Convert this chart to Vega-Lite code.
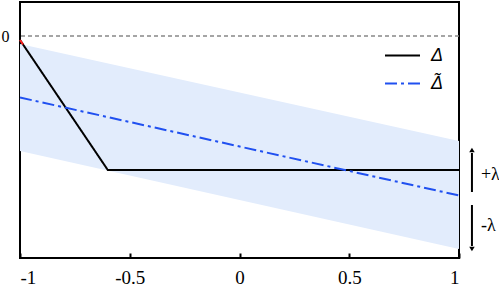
{
  "$schema": "https://vega.github.io/schema/vega-lite/v6.json",
  "width": 439,
  "height": 256,
  "autosize": {"type": "none"},
  "padding": {"left": 20, "top": 2, "right": 40, "bottom": 31},
  "background": "white",
  "config": {
    "view": {"stroke": "black", "strokeWidth": 2},
    "axis": {"grid": false, "labelFont": "Liberation Serif", "labelColor": "black"}
  },
  "datasets": {
    "band": [
      {"x": -1, "lo": -1.15, "hi": -0.08},
      {"x": 1, "lo": -2.13, "hi": -1.05}
    ],
    "lines": [
      {"s": "Δ", "x": -1, "y": -0.04, "o": 0},
      {"s": "Δ", "x": -0.6, "y": -1.34, "o": 1},
      {"s": "Δ", "x": 1, "y": -1.34, "o": 2},
      {"s": "Δ̃", "x": -1, "y": -0.615, "o": 0},
      {"s": "Δ̃", "x": 1, "y": -1.595, "o": 1}
    ],
    "red": [
      {"x": -1, "y": -0.04},
      {"x": -0.986, "y": -0.085}
    ],
    "arrows": [
      {"x": 1.059, "y": -1.56, "y2": -1.17, "tip": -1.14, "shape": "triangle-up", "label": "+λ", "ly": -1.39},
      {"x": 1.059, "y": -1.69, "y2": -2.1, "tip": -2.13, "shape": "triangle-down", "label": "-λ", "ly": -1.9}
    ]
  },
  "layer": [
    {
      "data": {"name": "band"},
      "mark": {"type": "area", "color": "#e2ecfc", "opacity": 1},
      "encoding": {
        "x": {"field": "x", "type": "quantitative", "scale": {"domain": [-1, 1], "nice": false, "zero": false},
          "axis": {"values": [-1, -0.5, 0, 0.5, 1], "labelExpr": "'' + datum.value", "title": null, "domain": false, "tickSize": -5, "tickWidth": 2, "tickColor": "black", "labelFontSize": 19, "labelPadding": 15}},
        "y": {"field": "lo", "type": "quantitative", "scale": {"domain": [-2.22, 0.34], "nice": false, "zero": false},
          "axis": {"values": [0], "labelExpr": "'' + datum.value", "title": null, "domain": false, "ticks": false, "labelFontSize": 16, "labelPadding": 11}},
        "y2": {"field": "hi"}
      }
    },
    {
      "data": {"values": [{"y": 0}]},
      "mark": {"type": "rule", "color": "#888888", "strokeDash": [4, 3], "strokeWidth": 1.5},
      "encoding": {"y": {"field": "y", "type": "quantitative"}}
    },
    {
      "data": {"name": "lines"},
      "mark": {"type": "line", "strokeWidth": 2},
      "encoding": {
        "x": {"field": "x", "type": "quantitative"},
        "y": {"field": "y", "type": "quantitative"},
        "order": {"field": "o"},
        "color": {"field": "s", "type": "nominal", "scale": {"domain": ["Δ", "Δ̃"], "range": ["black", "#2050f0"]},
          "legend": {"title": null, "orient": "none", "legendX": 364, "legendY": 35, "symbolType": "stroke", "symbolSize": 1225, "symbolStrokeWidth": 2, "labelFont": "Liberation Sans", "labelFontStyle": "italic", "labelFontSize": 18, "labelOffset": 10, "rowPadding": 0}},
        "strokeDash": {"field": "s", "type": "nominal", "scale": {"domain": ["Δ", "Δ̃"], "range": [[1, 0], [12, 4, 3, 4]]}}
      }
    },
    {
      "data": {"name": "red"},
      "mark": {"type": "line", "color": "#ff2020", "strokeWidth": 2},
      "encoding": {"x": {"field": "x", "type": "quantitative"}, "y": {"field": "y", "type": "quantitative"}}
    },
    {
      "data": {"name": "arrows"},
      "mark": {"type": "rule", "color": "black", "strokeWidth": 2},
      "encoding": {"x": {"field": "x", "type": "quantitative"}, "y": {"field": "y", "type": "quantitative"}, "y2": {"field": "y2"}}
    },
    {
      "data": {"name": "arrows"},
      "mark": {"type": "point", "filled": true, "color": "black", "opacity": 1, "size": 30},
      "encoding": {"x": {"field": "x", "type": "quantitative"}, "y": {"field": "tip", "type": "quantitative"},
        "shape": {"field": "shape", "type": "nominal", "scale": null}}
    },
    {
      "data": {"name": "arrows"},
      "mark": {"type": "text", "font": "Liberation Serif", "fontSize": 18, "align": "left", "baseline": "middle", "dx": 9, "color": "black"},
      "encoding": {"x": {"field": "x", "type": "quantitative"}, "y": {"field": "ly", "type": "quantitative"}, "text": {"field": "label"}}
    }
  ]
}
